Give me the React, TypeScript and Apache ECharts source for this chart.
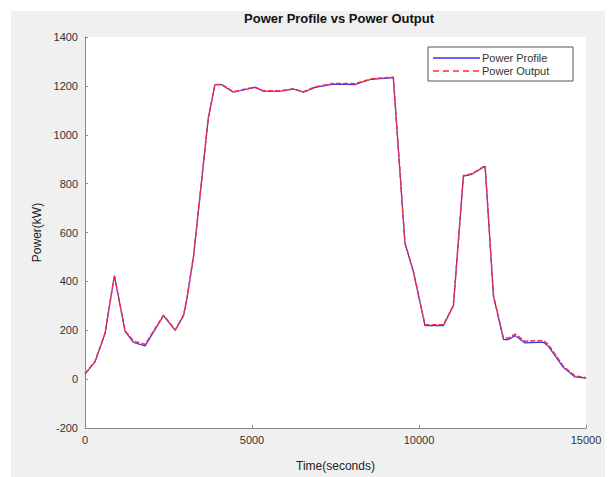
import React, { useEffect, useRef } from "react";
import * as echarts from "echarts";

const times = [0, 300, 600, 880, 1200, 1450, 1800, 2350, 2700, 2950, 3050, 3250, 3690, 3890, 4090, 4440, 4740, 5090, 5340, 5840, 6240, 6540, 6890, 7440, 8080, 8330, 8580, 9230, 9380, 9580, 9830, 10180, 10730, 11030, 11330, 11580, 11980, 12230, 12530, 12680, 12880, 13170, 13720, 13870, 14320, 14670, 15000];
const powerProfile = [20, 71, 186, 424, 195, 150, 136, 260, 199, 260, 327, 502, 1066, 1205, 1205, 1174, 1183, 1194, 1178, 1178, 1187, 1174, 1194, 1207, 1205, 1217, 1227, 1234, 945, 555, 441, 219, 219, 300, 831, 838, 871, 340, 162, 162, 178, 148, 151, 135, 48, 9, 4];
const powerOutput = [22, 73, 188, 424, 198, 156, 142, 262, 201, 262, 329, 504, 1068, 1206, 1206, 1176, 1185, 1195, 1180, 1180, 1188, 1176, 1196, 1210, 1209, 1219, 1229, 1236, 947, 557, 443, 222, 222, 302, 833, 840, 873, 342, 168, 168, 184, 155, 158, 142, 53, 13, 6];
const seriesNames = ["Power Profile", "Power Output"];
const yTicks = { min: -200, max: 1400, interval: 200 };
const xTicks = { min: 0, max: 15000, interval: 5000 };

export default function App() {
  const ref = useRef<HTMLDivElement>(null);
  useEffect(() => {
    if (!ref.current) return;
    const chart = echarts.init(ref.current, undefined, { renderer: "svg" });
    const font = "'Liberation Sans', Arial, sans-serif";
    const blue = "#3333ee";
    const red = "#ff2a3a";
    chart.setOption({
      animation: false,
      backgroundColor: "#ffffff",
      textStyle: { fontFamily: font },
      graphic: [
        { type: "rect", z: -10, silent: true, shape: { x: 11, y: 11, width: 594, height: 466 }, style: { fill: "#f0f0f0" } },
        {
          type: "text", x: 339, y: 18, z: 10,
          style: { text: "Power Profile vs Power Output", fontFamily: font, fontSize: 13, fontWeight: "bold", fill: "#111", align: "center", verticalAlign: "middle" },
        },
        {
          type: "group", x: 428, y: 47, z: 20,
          children: [
            { type: "rect", shape: { x: 0, y: 0, width: 145, height: 34 }, style: { fill: "#ffffff", stroke: "#555", lineWidth: 1 } },
            { type: "line", shape: { x1: 5, y1: 11, x2: 52, y2: 11 }, style: { stroke: blue, lineWidth: 1.3 } },
            { type: "text", x: 54, y: 11, style: { text: seriesNames[0], fontFamily: font, fontSize: 11, fill: "#333", verticalAlign: "middle" } },
            { type: "line", shape: { x1: 5, y1: 24, x2: 52, y2: 24 }, style: { stroke: red, lineWidth: 1.3, lineDash: [6, 4] } },
            { type: "text", x: 54, y: 24, style: { text: seriesNames[1], fontFamily: font, fontSize: 11, fill: "#333", verticalAlign: "middle" } },
          ],
        },
      ],
      grid: { left: 85, right: 28, top: 37, bottom: 43, show: true, backgroundColor: "#ffffff", borderWidth: 0 },
      xAxis: {
        type: "value", ...xTicks,
        name: "Time(seconds)", nameLocation: "middle", nameGap: 32,
        nameTextStyle: { fontSize: 12, color: "#222", fontFamily: font },
        axisLine: { show: true, onZero: false, lineStyle: { color: "#888", width: 1 } },
        axisTick: { show: true, inside: true, length: 3, lineStyle: { color: "#888" } },
        axisLabel: { fontSize: 11, color: "#333", margin: 6, fontFamily: font, formatter: (v: number) => String(v) },
        splitLine: { show: false },
      },
      yAxis: {
        type: "value", ...yTicks,
        name: "Power(kW)", nameLocation: "middle", nameGap: 41, nameRotate: 90,
        nameTextStyle: { fontSize: 12, color: "#222", fontFamily: font },
        axisLine: { show: true, onZero: false, lineStyle: { color: "#888", width: 1 } },
        axisTick: { show: true, inside: true, length: 3, lineStyle: { color: "#888" } },
        axisLabel: { fontSize: 11, color: "#333", margin: 7, fontFamily: font, formatter: (v: number) => String(v) },
        splitLine: { show: false },
      },
      series: [
        {
          name: seriesNames[0], type: "line", symbol: "none",
          data: times.map((t, i) => [t, powerProfile[i]]),
          lineStyle: { color: blue, width: 1.2 }, itemStyle: { color: blue },
        },
        {
          name: seriesNames[1], type: "line", symbol: "none",
          data: times.map((t, i) => [t, powerOutput[i]]),
          lineStyle: { color: red, width: 1.5, type: [5, 2] }, itemStyle: { color: red },
        },
      ],
    });
    return () => chart.dispose();
  }, []);
  return <div ref={ref} style={{ position: "absolute", left: 0, top: 0, width: 614, height: 477 }} />;
}
